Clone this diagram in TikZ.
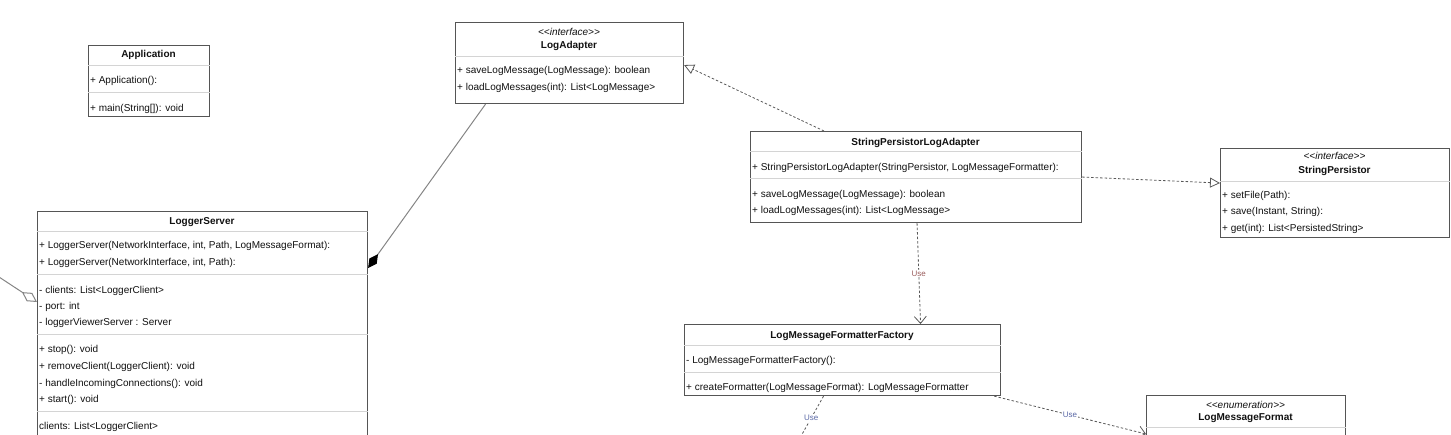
\documentclass[tikz,border=0pt]{standalone}
\usepackage{fontspec}
\setmainfont{Liberation Sans}
\usetikzlibrary{arrows.meta,calc}
\definecolor{ink}{HTML}{111111}
\definecolor{frame}{HTML}{555555}
\definecolor{rule}{HTML}{D4D4D4}
\definecolor{wire}{HTML}{858585}
\definecolor{dashc}{HTML}{595959}
\definecolor{usered}{HTML}{9A5C5C}
\definecolor{useblue}{HTML}{5A68A6}
\tikzset{
  cls/.style={draw=frame,line width=1.1pt,fill=white,anchor=north west,inner sep=0pt},
  hdr/.style={anchor=base,inner sep=0pt,font=\fontsize{10}{12}\selectfont\bfseries,text=ink},
  stereo/.style={anchor=base,inner sep=0pt,font=\fontsize{10}{12}\selectfont\itshape,text=ink},
  mem/.style={anchor=base west,inner sep=0pt,font=\fontsize{10}{12}\selectfont,text=ink},
  rulel/.style={draw=rule,line width=.8pt},
  real/.style={-{Triangle[open,fill=white,length=10pt,width=10pt]},draw=dashc,line width=.8pt,dash pattern=on 2.5pt off 2pt},
  comp/.style={-{Diamond[color=black,length=17pt,width=9pt]},draw=wire,line width=1pt},
  aggr/.style={-{Diamond[open,fill=white,length=18pt,width=10pt]},draw=wire,line width=1pt},
  dep/.style={-{Straight Barb[length=7pt,width=12pt]},draw=dashc,line width=.8pt,dash pattern=on 2.5pt off 2pt},
  uselbl/.style={fill=white,inner sep=1pt,font=\fontsize{8}{9}\selectfont},
}
\begin{document}
\begin{tikzpicture}[x=1pt,y=1pt]
  \path[use as bounding box] (0,0) rectangle (1451,-434);
  \clip (0,0) rectangle (1451,-434);
  % Application
  \node[cls,minimum width=121,minimum height=71] (app) at (88,-45) {};
  \node[hdr] (appn) at (148.5,-57) {Application};
  \draw[rulel] ([yshift=-20]app.north west) -- ([yshift=-20]app.north east);
  \node[mem] (app1) at (90,-83) {+ Application():};
  \draw[rulel] ([yshift=-47]app.north west) -- ([yshift=-47]app.north east);
  \node[mem] (app2) at (90,-111) {+ main(String[]): void};
  % LogAdapter
  \node[cls,minimum width=228,minimum height=81] (la) at (455,-22) {};
  \node[stereo] (las) at (569,-35) {<{}<interface>{}>};
  \node[hdr] (lan) at (569,-48.5) {LogAdapter};
  \draw[rulel] ([yshift=-34]la.north west) -- ([yshift=-34]la.north east);
  \node[mem] (la1) at (457,-73) {+ saveLogMessage(LogMessage): boolean};
  \node[mem] (la2) at (457,-90) {+ loadLogMessages(int): List<LogMessage>};
  % StringPersistorLogAdapter
  \node[cls,minimum width=331,minimum height=91] (spla) at (750,-131) {};
  \node[hdr] (splan) at (915.5,-145) {StringPersistorLogAdapter};
  \draw[rulel] ([yshift=-20]spla.north west) -- ([yshift=-20]spla.north east);
  \node[mem] (spla1) at (752,-170) {+ StringPersistorLogAdapter(StringPersistor, LogMessageFormatter):};
  \draw[rulel] ([yshift=-47]spla.north west) -- ([yshift=-47]spla.north east);
  \node[mem] (spla2) at (752,-197.5) {+ saveLogMessage(LogMessage): boolean};
  \node[mem] (spla3) at (752,-213) {+ loadLogMessages(int): List<LogMessage>};
  % StringPersistor
  \node[cls,minimum width=229,minimum height=89] (sp) at (1220,-148) {};
  \node[stereo] (sps) at (1334.5,-159) {<{}<interface>{}>};
  \node[hdr] (spn) at (1334.5,-173) {StringPersistor};
  \draw[rulel] ([yshift=-33]sp.north west) -- ([yshift=-33]sp.north east);
  \node[mem] (sp1) at (1222,-198) {+ setFile(Path):};
  \node[mem] (sp2) at (1222,-214.5) {+ save(Instant, String):};
  \node[mem] (sp3) at (1222,-231) {+ get(int): List<PersistedString>};
  % LoggerServer
  \node[cls,minimum width=330,minimum height=240] (ls) at (37,-211) {};
  \node[hdr] (lsn) at (202,-224) {LoggerServer};
  \draw[rulel] ([yshift=-20]ls.north west) -- ([yshift=-20]ls.north east);
  \node[mem] (ls1) at (39,-248) {+ LoggerServer(NetworkInterface, int, Path, LogMessageFormat):};
  \node[mem] (ls2) at (39,-265) {+ LoggerServer(NetworkInterface, int, Path):};
  \draw[rulel] ([yshift=-63]ls.north west) -- ([yshift=-63]ls.north east);
  \node[mem] (ls3) at (39,-293) {- clients: List<LoggerClient>};
  \node[mem] (ls4) at (39,-309) {- port: int};
  \node[mem] (ls5) at (39,-325) {- loggerViewerServer : Server};
  \draw[rulel] ([yshift=-123]ls.north west) -- ([yshift=-123]ls.north east);
  \node[mem] (ls6) at (39,-352) {+ stop(): void};
  \node[mem] (ls7) at (39,-369) {+ removeClient(LoggerClient): void};
  \node[mem] (ls8) at (39,-386) {- handleIncomingConnections(): void};
  \node[mem] (ls9) at (39,-402) {+ start(): void};
  \draw[rulel] ([yshift=-200]ls.north west) -- ([yshift=-200]ls.north east);
  \node[mem] (ls10) at (39,-429) {clients: List<LoggerClient>};
  % LogMessageFormatterFactory
  \node[cls,minimum width=316,minimum height=71] (lmff) at (684,-324) {};
  \node[hdr] (lmffn) at (842,-338) {LogMessageFormatterFactory};
  \draw[rulel] ([yshift=-21]lmff.north west) -- ([yshift=-21]lmff.north east);
  \node[mem] (lmff1) at (686,-363) {- LogMessageFormatterFactory():};
  \draw[rulel] ([yshift=-48]lmff.north west) -- ([yshift=-48]lmff.north east);
  \node[mem] (lmff2) at (686,-390) {+ createFormatter(LogMessageFormat): LogMessageFormatter};
  % LogMessageFormat
  \node[cls,minimum width=199,minimum height=80] (lmf) at (1146,-395) {};
  \node[stereo] (lmfs) at (1245.5,-408) {<{}<enumeration>{}>};
  \node[hdr] (lmfn) at (1245.5,-420) {LogMessageFormat};
  \draw[rulel] ([yshift=-32]lmf.north west) -- ([yshift=-32]lmf.north east);
  % relations
  \coordinate (aggfar) at (-4,-275);
  \coordinate (usefar) at (796,-445);
  \draw[real] ([xshift=-92]spla.north) -- ([yshift=-2]la.east);
  \draw[real] (spla.east) -- ([yshift=10]sp.west);
  \draw[comp] ([xshift=-84]la.south) -- ([yshift=-57]ls.north east);
  \draw[aggr] (aggfar) -- ([yshift=-91]ls.north west);
  \draw[dep] ([xshift=1]spla.south) -- node[uselbl,text=usered]{Use} ([xshift=78]lmff.north);
  \draw[dep] ([xshift=-19]lmff.south) -- node[uselbl,text=useblue,pos=.45]{Use} (usefar);
  \draw[dep] ([xshift=-7]lmff.south east) -- node[uselbl,text=useblue]{Use} ([yshift=-39]lmf.north west);
\end{tikzpicture}
\end{document}
